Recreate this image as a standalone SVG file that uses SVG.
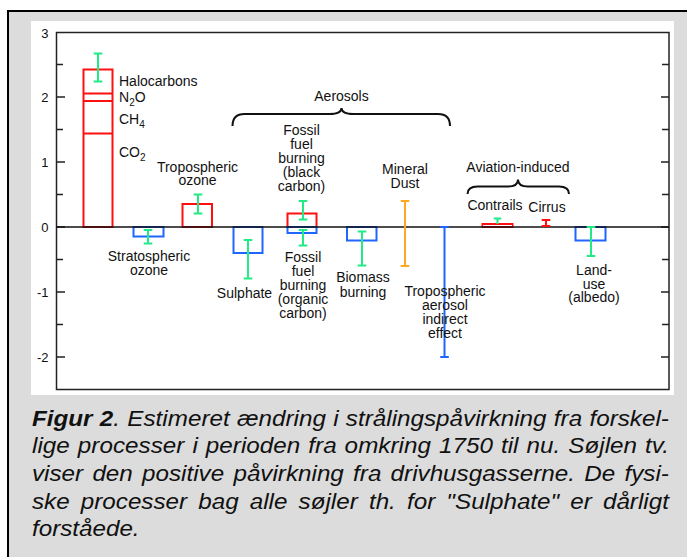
<svg xmlns="http://www.w3.org/2000/svg" width="687" height="557" viewBox="0 0 687 557">
<style>
text{font-family:"Liberation Sans",Arial,Helvetica,sans-serif;fill:#111}
.lbl{font-size:14px;text-anchor:middle}
.lbs{font-size:14px}
.sub{font-size:10px}
.ytick{font-size:13px;text-anchor:end}
.ax{stroke:#222;stroke-width:1.5;fill:none}
.red{stroke:#ff1010;stroke-width:2;fill:none}
.blue{stroke:#1f66ff;stroke-width:2;fill:none}
.grn{stroke:#22ea86;stroke-width:2;fill:none}
.org{stroke:#ffa820;stroke-width:2;fill:none}
.brace{stroke:#111;stroke-width:2;fill:none}
.cap{font-size:22px;font-style:italic}
</style>
<rect x="8" y="11" width="700" height="600" fill="#dcdcdc" stroke="#000" stroke-width="2"/>
<rect x="31" y="21" width="643" height="374" fill="#fff"/>
<g id="axes">
<rect class="ax" x="56.5" y="32.5" width="612.5" height="357"/>
<path class="ax" d="M56.5 97H65M56.5 162H65M56.5 227H65M56.5 292H65M56.5 357H65M56.5 64.5H63M56.5 129.5H63M56.5 194.5H63M56.5 259.5H63M56.5 324.5H63M669 97H661M669 162H661M669 227H661M669 292H661M669 357H661M669 64.5H662M669 129.5H662M669 194.5H662M669 259.5H662M669 324.5H662"/>
<text class="ytick" x="48.5" y="37.5">3</text>
<text class="ytick" x="48.5" y="101.5">2</text>
<text class="ytick" x="48.5" y="166.5">1</text>
<text class="ytick" x="48.5" y="231.5">0</text>
<text class="ytick" x="48.5" y="296.5">-1</text>
<text class="ytick" x="48.5" y="361.5">-2</text>
</g>
<g id="bars">
<g id="ghg">
<rect class="red" x="83.5" y="69.5" width="29" height="157.5"/>
<path class="red" d="M83.5 93.5H112.5M83.5 101H112.5M83.5 133.5H112.5"/>
</g>
<rect id="strat-ozone-bar" class="blue" x="133.5" y="227" width="30" height="9.5"/>
<rect id="trop-ozone-bar" class="red" x="182.5" y="204" width="29.5" height="23"/>
<rect id="sulphate-bar" class="blue" x="233.5" y="227" width="29" height="26"/>
<rect id="ffbc-bar" class="red" x="287.5" y="213.5" width="29" height="13.5"/>
<rect id="ffoc-bar" class="blue" x="287.5" y="227" width="29" height="6"/>
<rect id="biomass-bar" class="blue" x="347" y="227" width="29.5" height="13.5"/>
<rect id="contrails-bar" class="red" x="482.5" y="224" width="30" height="3"/>
<rect id="landuse-bar" class="blue" x="575.5" y="227" width="30" height="13.5"/>
</g>
<line x1="56.5" y1="227" x2="669" y2="227" stroke="#111" stroke-width="1.5"/>
<g id="errorbars">
<path class="grn" d="M98 53.5V81.5M93.7 53.5H102.3M93.7 81.5H102.3"/>
<path class="grn" d="M148 230V243.5M143.7 230H152.3M143.7 243.5H152.3"/>
<path class="grn" d="M198 194.5V213.5M193.7 194.5H202.3M193.7 213.5H202.3"/>
<path class="grn" d="M248 240V278.5M243.7 240H252.3M243.7 278.5H252.3"/>
<path class="grn" d="M303 201V219.5M298.7 201H307.3M298.7 219.5H307.3"/>
<path class="grn" d="M303 230V245.5M298.7 230H307.3M298.7 245.5H307.3"/>
<path class="grn" d="M362 231.5V265.5M357.7 231.5H366.3M357.7 265.5H366.3"/>
<path class="org" d="M405 201V266M400.7 201H409.3M400.7 266H409.3"/>
<path class="blue" d="M444.5 227V357M440.2 227H448.8M440.2 357H448.8"/>
<path class="grn" d="M497.5 218.5V224M493.7 218.5H501.3"/>
<path class="red" d="M546 220V226M541.7 220H550.3M541.7 226H550.3"/>
<path class="grn" d="M591 227V256M586.7 227H595.3M586.7 256H595.3"/>
</g>
<g id="connectors">
<path class="brace" d="M232.5 126Q232.5 114 244.5 114L329.5 114Q341.5 114 341.5 108Q341.5 114 353.5 114L438 114Q450 114 450 126"/>
<path class="brace" d="M467.5 194Q467.5 186.5 477.5 186.5L508 186.5Q518 186.5 518 179.5Q518 186.5 528 186.5L559 186.5Q569 186.5 569 194"/>
</g>
<g id="labels">
<g id="lbl-ghg">
<text class="lbs" x="119" y="86">Halocarbons</text>
<text class="lbs" x="119" y="102">N<tspan class="sub" dy="4">2</tspan><tspan dy="-4">O</tspan></text>
<text class="lbs" x="119" y="123.5">CH<tspan class="sub" dy="4">4</tspan></text>
<text class="lbs" x="119" y="157">CO<tspan class="sub" dy="4">2</tspan></text>
</g>
<g id="lbl-trop-ozone"><text class="lbl" x="197.5" y="171.5">Tropospheric</text><text class="lbl" x="197.5" y="185">ozone</text></g>
<g id="lbl-strat-ozone"><text class="lbl" x="149" y="261">Stratospheric</text><text class="lbl" x="149" y="275">ozone</text></g>
<g id="lbl-sulphate"><text class="lbl" x="244.5" y="298">Sulphate</text></g>
<g id="lbl-ffbc"><text class="lbl" x="301.5" y="135">Fossil</text><text class="lbl" x="301.5" y="149">fuel</text><text class="lbl" x="301.5" y="163">burning</text><text class="lbl" x="301.5" y="177">(black</text><text class="lbl" x="301.5" y="191">carbon)</text></g>
<g id="lbl-ffoc"><text class="lbl" x="303" y="261.5">Fossil</text><text class="lbl" x="303" y="275.5">fuel</text><text class="lbl" x="303" y="290">burning</text><text class="lbl" x="303" y="304">(organic</text><text class="lbl" x="303" y="318">carbon)</text></g>
<g id="lbl-biomass"><text class="lbl" x="363" y="282">Biomass</text><text class="lbl" x="363" y="296.5">burning</text></g>
<g id="lbl-dust"><text class="lbl" x="405" y="174">Mineral</text><text class="lbl" x="405" y="188">Dust</text></g>
<g id="lbl-indirect"><text class="lbl" x="445" y="296">Tropospheric</text><text class="lbl" x="445" y="309.5">aerosol</text><text class="lbl" x="445" y="324">indirect</text><text class="lbl" x="445" y="338">effect</text></g>
<g id="lbl-aerosols"><text class="lbl" x="341.5" y="100.5">Aerosols</text></g>
<g id="lbl-aviation"><text class="lbl" x="518" y="172">Aviation-induced</text></g>
<g id="lbl-contrails"><text class="lbl" x="495" y="210">Contrails</text></g>
<g id="lbl-cirrus"><text class="lbl" x="547" y="211.5">Cirrus</text></g>
<g id="lbl-landuse"><text class="lbl" x="594" y="275">Land-</text><text class="lbl" x="594" y="288.5">use</text><text class="lbl" x="594" y="302">(albedo)</text></g>
</g>
<g id="caption" transform="translate(32 0) scale(1.1 1)">
<text class="cap" x="0" y="426" word-spacing="0.5" textLength="579" lengthAdjust="spacing"><tspan font-weight="bold">Figur 2</tspan>. Estimeret ændring i strålingspåvirkning fra forskel-</text>
<text class="cap" x="0" y="453.5" word-spacing="1.1" textLength="579" lengthAdjust="spacing">lige processer i perioden fra omkring 1750 til nu. Søjlen tv.</text>
<text class="cap" x="0" y="481" word-spacing="2.3" textLength="579" lengthAdjust="spacing">viser den positive påvirkning fra drivhusgasserne. De fysi-</text>
<text class="cap" x="0" y="509" word-spacing="4" textLength="579" lengthAdjust="spacing">ske processer bag alle søjler th. for "Sulphate" er dårligt</text>
<text class="cap" x="0" y="536.5">forståede.</text>
</g>
</svg>
